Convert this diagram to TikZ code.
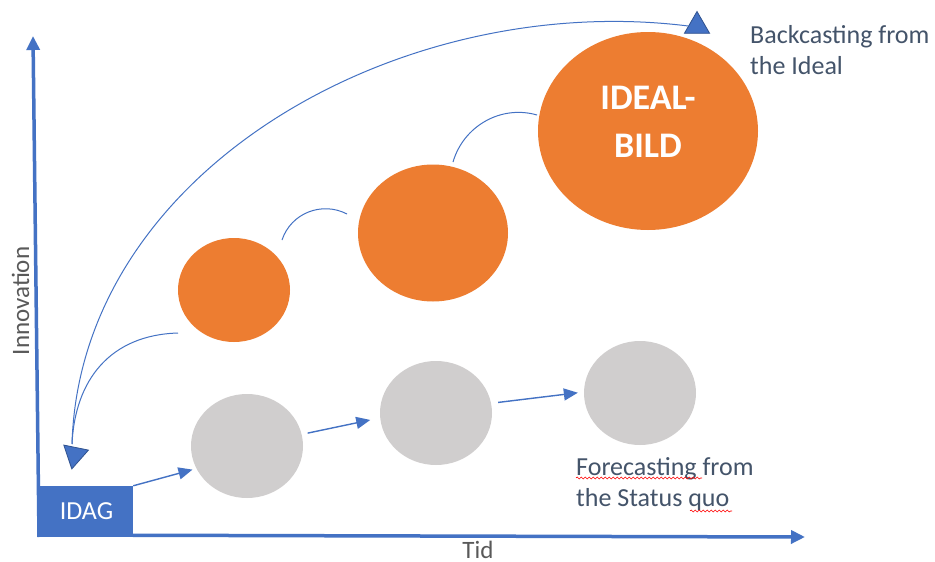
\documentclass[tikz,border=0pt]{standalone}
\usepackage{fontspec}
\setmainfont{Carlito}
\usetikzlibrary{shapes.geometric,arrows.meta,decorations.pathmorphing}
\definecolor{axisblue}{HTML}{4472C4}
\definecolor{darkblue}{HTML}{2F528F}
\definecolor{orangec}{HTML}{ED7D31}
\definecolor{grayc}{HTML}{D0CECE}
\definecolor{slate}{HTML}{44546A}
\definecolor{labelgray}{HTML}{595959}
\begin{document}
\begin{tikzpicture}[x=1pt,y=-1pt,
  axisline/.style={draw=axisblue, line width=3.5pt, -{Triangle[length=14pt,width=13pt]}},
  flow/.style={draw=axisblue, line width=1.4pt, -{Triangle[length=14pt,width=12pt]}},
  link/.style={draw=axisblue, line width=1pt},
  graydisk/.style={ellipse, fill=grayc, inner sep=0pt},
  orangedisk/.style={ellipse, fill=orangec, inner sep=0pt},
  tri/.style={regular polygon, regular polygon sides=3, minimum size=29pt, inner sep=0pt, fill=axisblue, draw=darkblue, line width=0.8pt},
  note/.style={font=\fontsize{26}{31}\selectfont, text=slate, align=left, inner sep=0pt, anchor=north west},
  axlabel/.style={font=\fontsize{25}{30}\selectfont, text=labelgray, inner sep=0pt},
  spell/.style={draw=red, line width=0.6pt, decorate, decoration={snake, amplitude=1pt, segment length=4pt}}]
\useasboundingbox (0,0) rectangle (935,562);
\fill[white] (0,0) rectangle (935,562);

% axes
\coordinate (yorig) at (39,537);
\coordinate (ytop) at (33,36);
\coordinate (xorig) at (39,535);
\coordinate (xend) at (805,537);
\draw[axisline] (yorig) -- (ytop);
\draw[axisline] (xorig) -- (xend);

% IDAG box
\node[fill=axisblue, minimum width=93pt, minimum height=51pt, inner sep=0pt,
      text=white, font=\fontsize{26}{30}\selectfont] (idag) at (86.5,511.5) {IDAG};

% gray circles
\node[graydisk, minimum width=112pt, minimum height=104pt] (g1) at (247,446) {};
\node[graydisk, minimum width=112pt, minimum height=104pt] (g2) at (436,413) {};
\node[graydisk, minimum width=112pt, minimum height=104pt] (g3) at (640,393) {};

% orange circles
\node[orangedisk, minimum width=112pt, minimum height=104pt] (o1) at (234,290) {};
\node[orangedisk, minimum width=150pt, minimum height=137pt] (o2) at (433,233) {};
\node[orangedisk, minimum width=220pt, minimum height=198pt] (o3) at (648,131) {};
\node[text=white, font=\bfseries\fontsize{36}{48}\selectfont, align=center, inner sep=0pt]
  (o3text) at ([yshift=9pt]o3.center) {IDEAL-\\BILD};

% forecasting arrows
\draw[flow, shorten >=4pt] (idag.north east) -- (g1.204);
\draw[flow, shorten <=6pt, shorten >=10pt] (g1.12) -- (g2.185);
\draw[flow, shorten <=7pt, shorten >=6pt] (g2.10) -- (g3.179);

% links between orange circles
\coordinate (a1s) at (282,240);
\coordinate (a1e) at (347,214);
\draw[link] (a1s) .. controls (291,213) and (322,201) .. (a1e);
\coordinate (a2s) at (453,162);
\coordinate (a2e) at (537,115);
\draw[link] (a2s) .. controls (463.5,126) and (501,104.6) .. (a2e);

% triangles
\node[tri] (t1) at (697,26) {};
\node[tri, rotate=168.5] (t2) at (74.7,454.7) {};

% backcasting curves
\coordinate (b0) at (72,444);
\coordinate (c0) at (178,333);
\draw[link] (b0) .. controls (80,170) and (400,-10) .. (t1.west);
\draw[link] (c0) .. controls (110,335) and (75,380) .. (b0);

% texts
\node[note] (back) at (750,25) {Backcasting from\\the Ideal};
\node[note] (fore) at (576,457) {Forecasting from\\the Status quo};
\node[axlabel, rotate=90] (inno) at (20.5,301) {Innovation};
\node[axlabel] (tid) at (478,549.5) {Tid};

% spell-check marks
\draw[spell] (576,478) -- (702,478);
\draw[spell] (690,511) -- (732,511);
\end{tikzpicture}
\end{document}
